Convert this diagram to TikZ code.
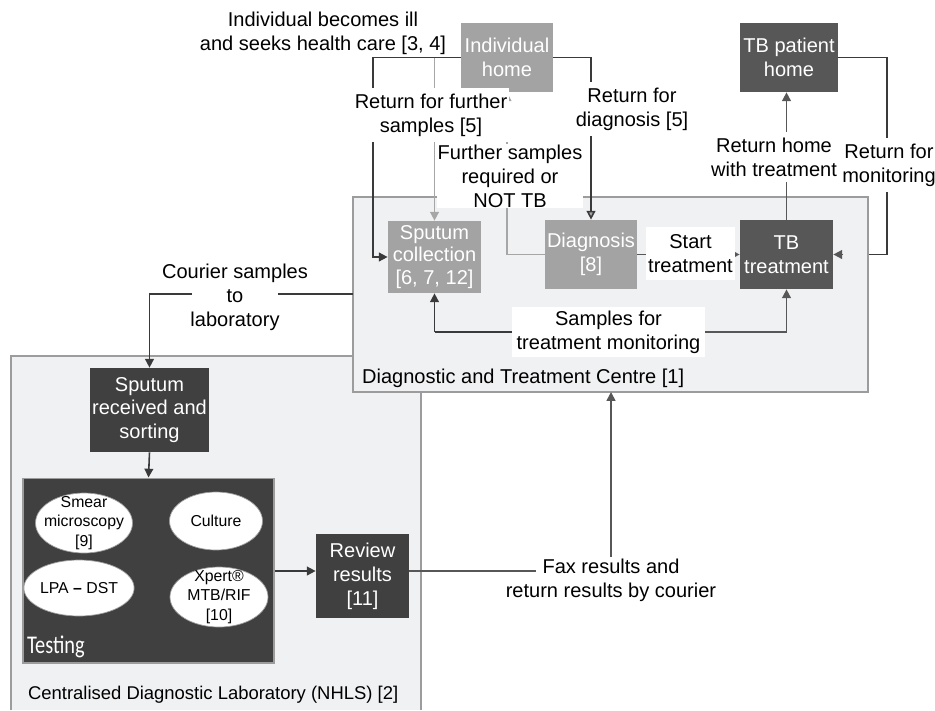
\documentclass[tikz,border=0pt]{standalone}
\usepackage{fontspec}
\setmainfont{Liberation Sans}
\newfontfamily\testingfont{Carlito}
\usetikzlibrary{arrows.meta,positioning,calc,shapes.geometric}

\definecolor{midgrey}{HTML}{A3A3A3}
\definecolor{darkgrey}{HTML}{575757}
\definecolor{darkergrey}{HTML}{404040}
\definecolor{panelgrey}{HTML}{F0F1F3}
\definecolor{edgegrey}{HTML}{9C9C9C}
\definecolor{linegrey}{HTML}{A6A6A6}
\definecolor{lineblack}{HTML}{3A3A3A}

\begin{document}
\begin{tikzpicture}[x=0.02cm,y=-0.02cm,
		every node/.style={font=\fontsize{11.4}{13.6}\selectfont, align=center, inner sep=1pt},
		midbox/.style={fill=midgrey, text=white},
		darkbox/.style={fill=darkgrey, text=white},
		darkerbox/.style={fill=darkergrey, text=white},
		testellipse/.style={ellipse, fill=white, draw=edgegrey, line width=0.4pt, inner sep=0pt,
				font=\fontsize{9}{11.2}\selectfont},
		lbl/.style={fill=white},
		blkarr/.style={draw=lineblack, line width=0.9pt, -{Triangle[length=5pt,width=5pt]}},
		gryarr/.style={draw=linegrey, line width=0.9pt, -{Triangle[length=5pt,width=5pt]}},
	]
	\useasboundingbox (0,0) rectangle (935,710);
	%
	% the two sites
	\fill[panelgrey] (11,356) rectangle (421,710);
	\draw[edgegrey, line width=0.8pt] (11,710) -- (11,356) -- (421,356) -- (421,710);
	\node[darkbox, minimum width=1.96cm, minimum height=1.38cm] (tbhome) at (789,57.5) {TB patient\\home};
	\coordinate (monin) at (887,254.5);
	\coordinate (moncorner) at (887,57.5);
	\draw[lineblack, line width=0.9pt] (tbhome.east) -- (moncorner) -- (monin) -- (868,254.5);
	\draw[fill=panelgrey, draw=edgegrey, line width=0.8pt] (353,197) rectangle (868,392);
	\coordinate (dtcleft) at (353,294);
	\coordinate (dtcbottom) at (611,392);
	\node[anchor=west] (dtc) at (360,378) {Diagnostic and Treatment Centre [1]};
	\node[anchor=west, font=\fontsize{10.5}{12.6}\selectfont] (lab) at (26,695) {Centralised Diagnostic Laboratory (NHLS) [2]};
	%
	% boxes
	\node[midbox, minimum width=1.84cm, minimum height=1.38cm] (home) at (507,57.5) {Individual\\home};
	\node[midbox, minimum width=1.86cm, minimum height=1.44cm, font=\fontsize{11.4}{12.6}\selectfont] (sputcol) at (434.5,257) {Sputum\\collection\\{[6, 7, 12]}};
	\node[midbox, minimum width=1.84cm, minimum height=1.38cm] (diag) at (591,254.5) {Diagnosis\\{[8]}};
	\node[darkbox, minimum width=1.86cm, minimum height=1.38cm] (tbtreat) at (786.5,254.5) {TB\\treatment};
	\node[darkerbox, minimum width=2.3cm, minimum height=1.68cm] (received) at (149.5,410) {Sputum\\received and\\sorting};
	\node[darkerbox, draw=edgegrey, line width=0.6pt, minimum width=5.02cm, minimum height=3.7cm] (testing) at (148.5,570.5) {};
	\node[darkerbox, minimum width=1.86cm, minimum height=1.68cm] (review) at (362.5,576) {Review\\results\\{[11]}};
	%
	% tests
	\node[testellipse, inner xsep=-3.3pt, inner ysep=-4pt, minimum width=1.94cm, minimum height=1.2cm] (smear) at (84,523) {Smear\\microscopy\\{[9]}};
	\node[testellipse, minimum width=1.86cm, minimum height=1.16cm] (culture) at (216,521) {Culture};
	\node[testellipse, minimum width=1.78cm, minimum height=1.12cm] (lpa) at (79,588) {LPA \textbf{--} DST};
	\node[testellipse, inner xsep=-1pt, inner ysep=-4pt, minimum width=1.96cm, minimum height=1.2cm] (xpert) at (219,597) {Xpert®\\MTB/RIF\\{[10]}};
	\node[anchor=base west, text=white, font=\testingfont\fontsize{14.5}{16}\selectfont] (testlbl) at (25,653) {\scalebox{0.8}[1]{Testing}};
	%
	% connectors
	\coordinate (retleft) at (373,57.5);
	\draw[blkarr] (home.west) -- (retleft) |- (sputcol.west);
	\draw[gryarr] (sputcol.north |- home.west) -- (sputcol.north);
	\draw[lineblack, line width=0.9pt, -{Triangle[length=5pt,width=5pt,fill=linegrey]}] (home.east) -| (diag.north);
	\draw[gryarr] (diag.west) -| (home.south);
	\draw[blkarr, draw=darkgrey] (diag.east) -- (tbtreat.west);
	\draw[blkarr, draw=darkgrey] (tbtreat.north) -- (tbtreat.north |- tbhome.south);
	\draw[blkarr, draw=darkgrey] (843,254.5) -- (tbtreat.east);
	\coordinate (courin) at (278,294);
	\coordinate (courout) at (192,294);
	\draw[lineblack, line width=0.9pt] (dtcleft) -- (courin);
	\draw[blkarr] (courout) -| (received.north);
	\draw[blkarr] (received.south) -- (testing.north);
	\draw[blkarr] (testing.east |- 0,571) -- (review.west |- 0,571);
	%
	% labels on the connectors
	\node (ill) at (323,33) {Individual becomes ill\\and seeks health care [3, 4]};
	\node[lbl, inner ysep=3pt] (further) at (431,115) {Return for further\\samples [5]};
	\node[lbl, inner sep=0.5pt] (nottb) at (510,176) {Further samples\\required or\\NOT TB};
	\node[lbl, inner ysep=3pt] (retdiag) at (632,109) {Return for\\diagnosis [5]};
	\node[lbl, inner ysep=3pt] (rethome) at (774,157) {Return home\\with treatment};
	\node[lbl, inner ysep=3pt] (retmon) at (889,165) {Return for\\monitoring};
	\node[lbl, minimum width=1.66cm, minimum height=1.06cm] (starttr) at (690.5,253.5) {Start\\treatment};
	\node[lbl, inner sep=0.5pt, minimum width=3.86cm, minimum height=1cm] (monitor) at (608.5,332) {Samples for\\treatment monitoring};
	\node (courier) at (235,297) {Courier samples\\to\\laboratory};
	\node (fax) at (611,580) {Fax results and\\return results by courier};
	\coordinate (faxin) at (536,571);
	\draw[blkarr] (sputcol.south |- monitor.west) -- (sputcol.south);
	\draw[lineblack, line width=0.9pt] (sputcol.south |- monitor.west) -- (monitor.west);
	\draw[blkarr, draw=darkgrey] (monitor.east) -| (tbtreat.south);
	\draw[darkgrey, line width=0.9pt] (review.east |- faxin) -- (faxin);
	\draw[blkarr, draw=darkgrey] (fax.north) -- (dtcbottom);
\end{tikzpicture}
\end{document}
